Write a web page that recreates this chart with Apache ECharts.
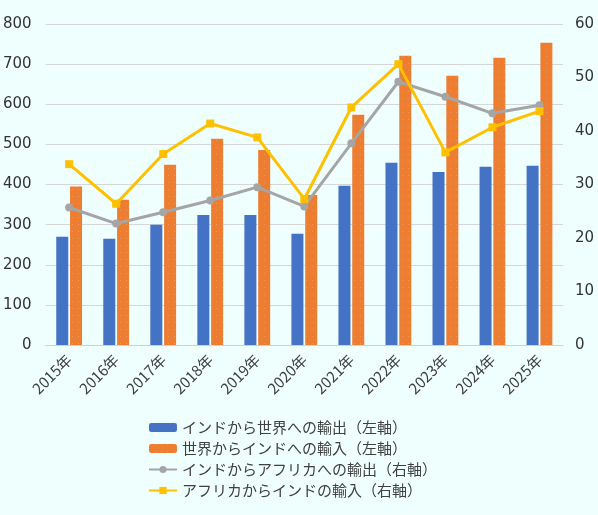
<!DOCTYPE html>
<html>
<head>
<meta charset="utf-8">
<script src="https://cdn.jsdelivr.net/npm/echarts@6/dist/echarts.min.js"></script>
<style>
  html, body { margin: 0; padding: 0; background: #effffe; }
  #chart { width: 598px; height: 515px; }
</style>
</head>
<body>
<div id="chart"></div>
<script>
// 年
var years = ['2015年','2016年','2017年','2018年','2019年','2020年','2021年','2022年','2023年','2024年','2025年'];
// 左軸
var exportWorld = [270, 265, 300, 324, 324, 277, 397, 454, 431, 444, 447];
var importWorld = [395, 362, 449, 514, 486, 374, 574, 721, 671, 716, 753];
// 右軸
var exportAfrica = [25.7, 22.7, 24.8, 27.0, 29.5, 25.9, 37.7, 49.2, 46.4, 43.3, 44.8];
var importAfrica = [33.8, 26.4, 35.7, 41.4, 38.8, 27.3, 44.4, 52.5, 36.0, 40.7, 43.7];

var names = [
    'インドから世界への輸出（左軸）',
    '世界からインドへの輸入（左軸）',
    'インドからアフリカへの輸出（右軸）',
    'アフリカからインドの輸入（右軸）'
];

var font = '"Noto Sans CJK JP", "Noto Sans", sans-serif';
var chart = echarts.init(document.getElementById('chart'));

var option = {
    backgroundColor: '#effffe',
    textStyle: { fontFamily: font },
    grid: { left: 42, right: 35, top: 24, bottom: 170 },
    legend: {
        orient: 'vertical',
        left: 143,
        top: 415,
        itemWidth: 28,
        itemHeight: 9,
        itemGap: 6,
        textStyle: { fontSize: 15, color: '#404040', fontFamily: font },
        data: names
    },
    xAxis: {
        type: 'category',
        data: years,
        axisLine: { lineStyle: { color: '#d0d0d0' } },
        axisTick: { show: false },
        axisLabel: { rotate: 45, fontSize: 15, color: '#404040', margin: 12, interval: 0 }
    },
    yAxis: [
        {
            type: 'value', min: 0, max: 800, interval: 100,
            axisLabel: { fontSize: 15, color: '#333', margin: 14, fontFamily: 'DejaVu Sans' },
            splitLine: { lineStyle: { color: '#d6d6d6' } },
            axisLine: { show: false }, axisTick: { show: false }
        },
        {
            type: 'value', min: 0, max: 60, interval: 10,
            axisLabel: { fontSize: 15, color: '#333', margin: 12, fontFamily: 'DejaVu Sans' },
            splitLine: { show: false },
            axisLine: { show: false }, axisTick: { show: false }
        }
    ],
    series: [
        {
            name: names[0], type: 'bar', yAxisIndex: 0,
            barWidth: 12, barGap: '15%',
            itemStyle: { color: '#4472c4' },
            data: exportWorld
        },
        {
            name: names[1], type: 'bar', yAxisIndex: 0,
            barWidth: 12,
            itemStyle: {
                color: '#ed7d31',
                decal: {
                    symbol: 'rect',
                    symbolSize: 0.5,
                    color: 'rgba(255,255,255,0.7)',
                    dashArrayX: [1, 5],
                    dashArrayY: [1, 6],
                    rotation: 0
                }
            },
            data: importWorld
        },
        {
            name: names[2], type: 'line', yAxisIndex: 1,
            symbol: 'circle', symbolSize: 8,
            lineStyle: { color: '#a5a5a5', width: 3 },
            itemStyle: { color: '#a5a5a5' },
            data: exportAfrica
        },
        {
            name: names[3], type: 'line', yAxisIndex: 1,
            symbol: 'rect', symbolSize: 8,
            lineStyle: { color: '#ffc000', width: 3 },
            itemStyle: { color: '#ffc000' },
            data: importAfrica
        }
    ]
};
chart.setOption(option);
</script>
</body>
</html>
